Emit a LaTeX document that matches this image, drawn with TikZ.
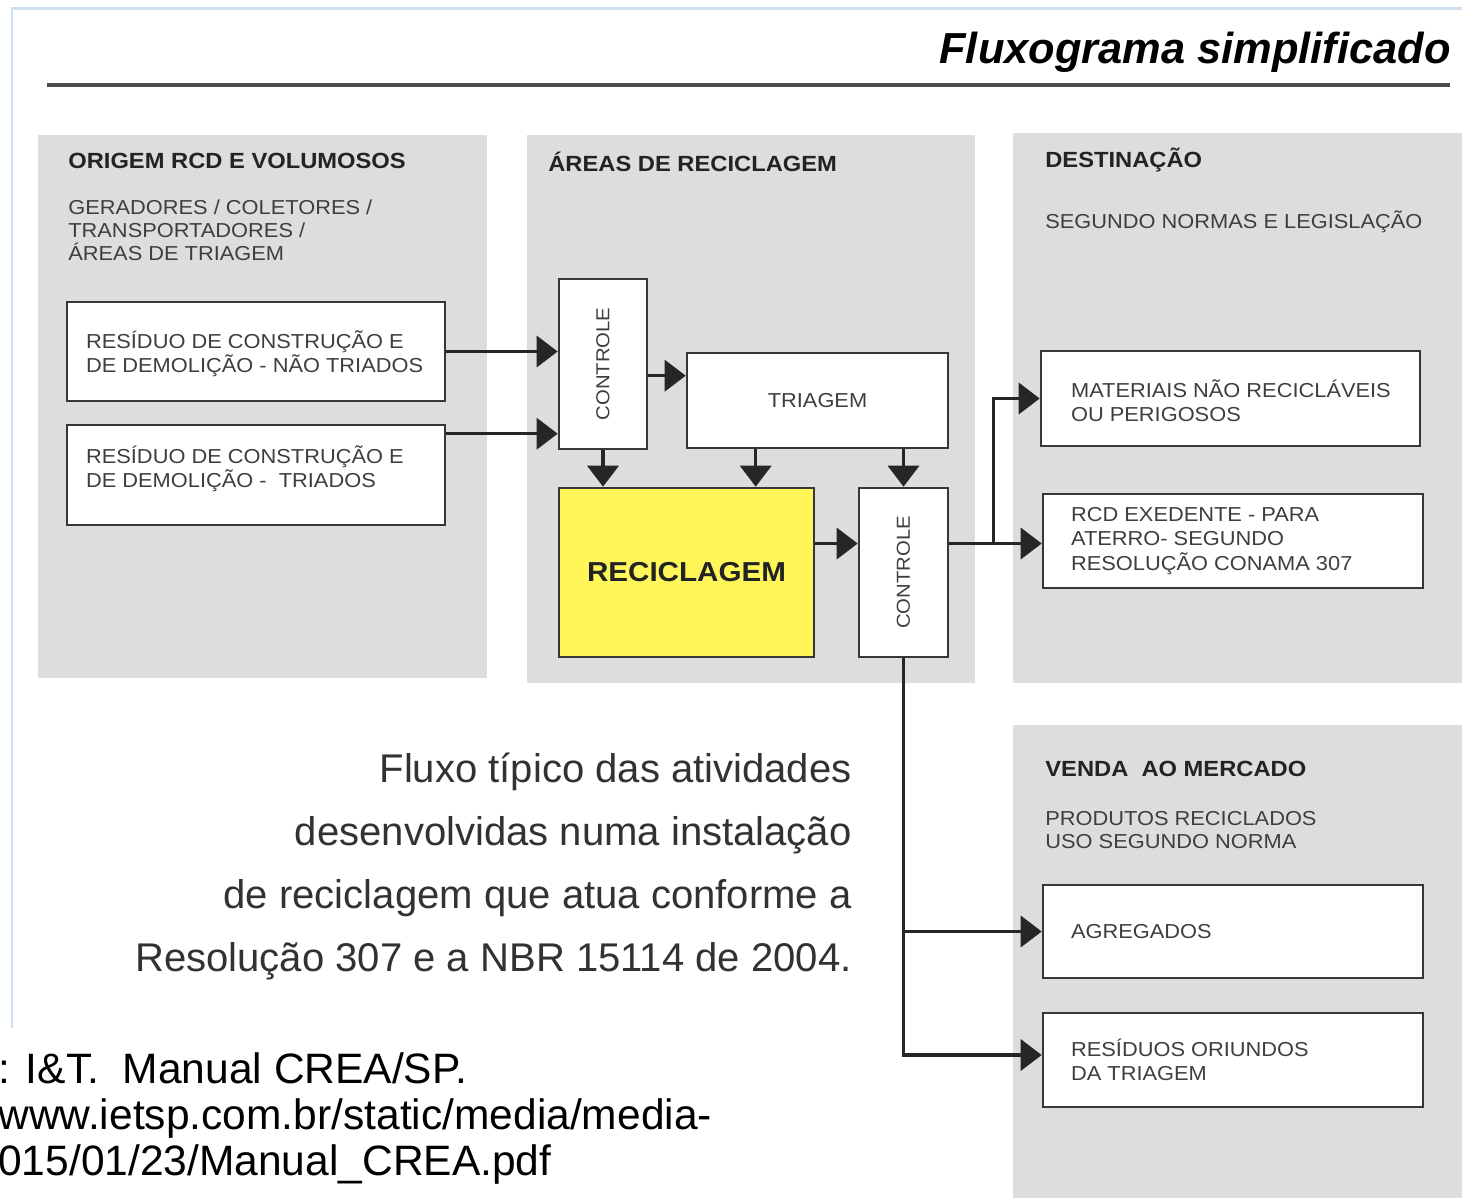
\documentclass[tikz,border=0pt]{standalone}
\usepackage{fontspec}
\setmainfont{Liberation Sans}
\newfontfamily\boxfont[FakeStretch=1.08]{Liberation Sans}
\usepackage{graphicx}
\usepackage{tikz}
\usetikzlibrary{arrows.meta}
\usepackage{xcolor}
\definecolor{panelgray}{RGB}{221,221,221}
\definecolor{edgegray}{RGB}{55,55,55}
\definecolor{inkgray}{RGB}{62,62,62}
\definecolor{headgray}{RGB}{35,35,35}
\definecolor{recyellow}{RGB}{255,246,90}
\definecolor{frameblue}{RGB}{206,223,240}
\definecolor{captiongray}{RGB}{50,50,50}
\tikzset{%
    flow/.style={-{Triangle[length=0.42cm,width=0.62cm]}, line width=2pt, draw=black!85},
    box/.style={draw=edgegray, line width=1.5pt, fill=white, inner sep=0pt},
    boxtext/.style={font=\boxfont\fontsize{11.5}{13.9}\selectfont, text=inkgray, align=left, inner sep=0pt, anchor=west},
    subtext/.style={font=\boxfont\fontsize{11.5}{13.1}\selectfont, text=inkgray, align=left, inner sep=0pt},
    head/.style={font=\boxfont\bfseries\fontsize{12.5}{15}\selectfont, text=headgray, inner sep=0pt, anchor=base west}
}

\begin{document}
\begin{tikzpicture}[x=0.02cm, y=-0.02cm]
    \useasboundingbox (0,0) rectangle (1462,1198);
    \draw[frameblue, line width=1.7pt] (12,1028) -- (12,8) -- (1462,8);
    \node[font=\bfseries\itshape\fontsize{24.7}{30}\selectfont, inner sep=0pt, anchor=base east] (title) at (1451,63) {Fluxograma simplificado};
    \draw[line width=2.3pt, color=black!70] (47,85) -- (1450,85);
    \fill[panelgray] (38,135) rectangle (487,678);
    \fill[panelgray] (527,135) rectangle (975,683);
    \fill[panelgray] (1013,133) rectangle (1462,683);
    \fill[panelgray] (1013,725) rectangle (1462,1198);
    \node[head] (hOrigem) at (68,168) {ORIGEM RCD E VOLUMOSOS};
    \node[head] (hAreas) at (548,171) {ÁREAS DE RECICLAGEM};
    \node[head] (hDest) at (1045,167) {DESTINAÇÃO};
    \node[head] (hVenda) at (1045,776) {VENDA\ \ AO MERCADO};
    \node[subtext, anchor=west] (sOrigem) at (68,230) {GERADORES / COLETORES /\\TRANSPORTADORES /\\ÁREAS DE TRIAGEM};
    \node[subtext, anchor=base west] (sDest) at (1045,228) {SEGUNDO NORMAS E LEGISLAÇÃO};
    \node[subtext, anchor=west] (sVenda) at (1045,830) {PRODUTOS RECICLADOS\\USO SEGUNDO NORMA};
    \node[box, minimum width=7.56cm, minimum height=1.98cm] (boxA) at (256,351.5) {};
    \node[box, minimum width=7.56cm, minimum height=2.00cm] (boxB) at (256,475) {};
    \node[box, minimum width=1.76cm, minimum height=3.40cm, font=\boxfont\fontsize{10.7}{12}\selectfont, text=inkgray] (ctrlA) at (603,364) {\rotatebox{90}{CONTROLE}};
    \node[box, minimum width=5.22cm, minimum height=1.90cm, font=\boxfont\fontsize{11.5}{13.9}\selectfont, text=inkgray] (triagem) at (817.5,400.5) {TRIAGEM};
    \node[box, fill=recyellow, minimum width=5.10cm, minimum height=3.38cm, font=\boxfont\bfseries\fontsize{15.6}{18}\selectfont, text=headgray] (recicl) at (686.5,572.5) {RECICLAGEM};
    \node[box, minimum width=1.78cm, minimum height=3.38cm, font=\boxfont\fontsize{10.7}{12}\selectfont, text=inkgray] (ctrlB) at (903.5,572.5) {\rotatebox{90}{CONTROLE}};
    \node[box, minimum width=7.58cm, minimum height=1.90cm] (materiais) at (1230.5,398.5) {};
    \node[box, minimum width=7.60cm, minimum height=1.88cm] (rcd) at (1233,541) {};
    \node[box, minimum width=7.60cm, minimum height=1.86cm] (agreg) at (1233,931.5) {};
    \node[box, minimum width=7.60cm, minimum height=1.88cm] (resid) at (1233,1060) {};
    \node[boxtext] (txtA) at ([xshift=0.4cm,yshift=-0.05cm]boxA.west) {RESÍDUO DE CONSTRUÇÃO E\\DE DEMOLIÇÃO - NÃO TRIADOS};
    \node[boxtext] (txtB) at ([xshift=0.4cm,yshift=0.13cm]boxB.west) {RESÍDUO DE CONSTRUÇÃO E\\DE DEMOLIÇÃO -\ \ TRIADOS};
    \node[boxtext] (txtMat) at ([xshift=0.62cm,yshift=-0.05cm]materiais.west) {MATERIAIS NÃO RECICLÁVEIS\\OU PERIGOSOS};
    \node[boxtext] (txtRcd) at ([xshift=0.58cm]rcd.west) {RCD EXEDENTE - PARA\\ATERRO- SEGUNDO\\RESOLUÇÃO CONAMA 307};
    \node[boxtext] (txtAgr) at ([xshift=0.58cm]agreg.west) {AGREGADOS};
    \node[boxtext] (txtRes) at ([xshift=0.58cm]resid.west) {RESÍDUOS ORIUNDOS\\DA TRIAGEM};
    \coordinate (bIn) at ([yshift=-0.2cm]boxB.north east);
    \coordinate (tIn) at ([yshift=-0.48cm]triagem.north west);
    \coordinate (tDown) at ([xshift=1.4cm]triagem.south west);
    \coordinate (rOut) at ([yshift=0.58cm]recicl.east);
    \coordinate (cOut) at (rOut -| ctrlB.east);
    \coordinate (jDest) at ([xshift=0.88cm]cOut);
    \draw[flow] (boxA.east) -- (boxA.east -| ctrlA.west);
    \draw[flow] (bIn) -- (bIn -| ctrlA.west);
    \draw[flow] (tIn -| ctrlA.east) -- (tIn);
    \draw[flow] (ctrlA.south) -- (ctrlA.south |- recicl.north);
    \draw[flow] (tDown) -- (tDown |- recicl.north);
    \draw[flow] (ctrlB.north |- triagem.south) -- (ctrlB.north);
    \draw[flow] (rOut) -- (rOut -| ctrlB.west);
    \draw[flow] (cOut) -- (jDest -| rcd.west);
    \draw[flow] (jDest) |- (materiais.west);
    \draw[flow] (ctrlB.south) |- ([yshift=0.1cm]resid.west);
    \draw[flow] (ctrlB.south |- agreg.west) -- (agreg.west);
    \foreach \line [count=\i] in {{Fluxo típico das atividades}, {desenvolvidas numa instalação}, {de reciclagem que atua conforme a}, {Resolução 307 e a NBR 15114 de 2004.}}
        \node[font=\fontsize{22.8}{27}\selectfont, text=captiongray, inner sep=0pt, anchor=base east] (cap\i) at (852,{719+63*\i}) {\line};
    \foreach \line [count=\i] in {{: I\&T.\ \ Manual CREA/SP.}, {www.ietsp.com.br/static/media/media-}, {015/01/23/Manual\_CREA.pdf}}
        \node[font=\fontsize{24.2}{28}\selectfont, inner sep=0pt, anchor=base west] (cite\i) at (-2,{1037+46*\i}) {\line};
\end{tikzpicture}
\end{document}
